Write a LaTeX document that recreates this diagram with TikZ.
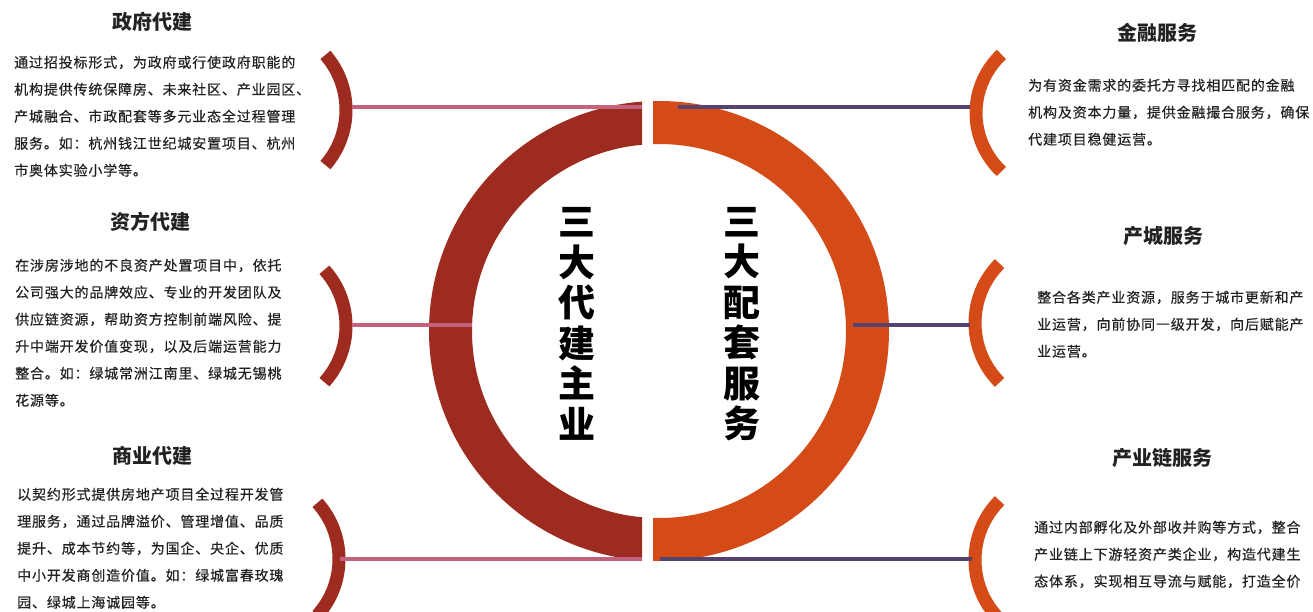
\documentclass[tikz,border=0pt]{standalone}
\usepackage{fontspec}
\newfontfamily\cjk{Noto Sans CJK SC}
\definecolor{ringL}{HTML}{9E2B1F}
\definecolor{ringR}{HTML}{D54B18}
\definecolor{pinkc}{HTML}{C2627C}
\definecolor{purpc}{HTML}{55436E}
\definecolor{txt}{HTML}{222222}
\begin{document}
\begin{tikzpicture}[x=1pt,y=-1pt,
  title/.style={font=\cjk\bfseries\fontsize{20}{24}\selectfont, text=txt, anchor=center, inner sep=0pt},
  body/.style={font=\cjk\fontsize{14}{27}\selectfont\addfontfeature{LetterSpace=6,FakeBold=0.5}, text=txt, align=left, anchor=north west, inner sep=0pt},
  bigtxt/.style={font=\cjk\bfseries\fontsize{37}{40.5}\selectfont, align=center, anchor=center, inner sep=0pt},
  brL/.style={draw=ringL, line width=13pt},
  brR/.style={draw=ringR, line width=13pt},
  pinkline/.style={draw=pinkc, line width=4pt},
  purpline/.style={draw=purpc, line width=4pt}]
\useasboundingbox (0,0) rectangle (1313,612);
% central ring
\begin{scope}
  \clip (0,0) rectangle (642,612);
  \fill[ringL, even odd rule] (659,331) circle[radius=230] (659,331) circle[radius=187];
\end{scope}
\begin{scope}
  \clip (653,0) rectangle (1313,612);
  \fill[ringR, even odd rule] (659,331) circle[radius=230] (659,331) circle[radius=187];
\end{scope}
% brackets left
\draw[brL] ([shift={(-41:84)}]262,110) arc[start angle=-41, end angle=41, radius=84];
\draw[brL] ([shift={(-42:84)}]262,326) arc[start angle=-42, end angle=42, radius=84];
\draw[brL] ([shift={(-42:84)}]255,559) arc[start angle=-42, end angle=42, radius=84];
% brackets right
\draw[brR] ([shift={(133:80)}]1056,113) arc[start angle=133, end angle=227, radius=80];
\draw[brR] ([shift={(135:84)}]1059,323) arc[start angle=135, end angle=225, radius=84];
\draw[brR] ([shift={(135:84)}]1059,560) arc[start angle=135, end angle=225, radius=84];
% connector end points
\coordinate (a1) at (352,107); \coordinate (b1) at (642,107);
\coordinate (a2) at (352,325); \coordinate (b2) at (472,325);
\coordinate (a3) at (340,559); \coordinate (b3) at (642,559);
\coordinate (c1) at (678,107); \coordinate (d1) at (970,107);
\coordinate (c2) at (853,325); \coordinate (d2) at (970,325);
\coordinate (c3) at (660,559); \coordinate (d3) at (972,559);
\draw[pinkline] (a1) -- (b1);
\draw[pinkline] (a2) -- (b2);
\draw[pinkline] (a3) -- (b3);
\draw[purpline] (c1) -- (d1);
\draw[purpline] (c2) -- (d2);
\draw[purpline] (c3) -- (d3);
% central texts
\node[bigtxt] (mainL) at (577,324) {三\\大\\代\\建\\主\\业};
\node[bigtxt] (mainR) at (742,324) {三\\大\\配\\套\\服\\务};
% left texts
\node[title] (t1) at (152,22) {政府代建};
\node[body] (p1) at (14,55.5) {通过招投标形式，为政府或行使政府职能的\\机构提供传统保障房、未来社区、产业园区、\\产城融合、市政配套等多元业态全过程管理\\服务。如：杭州钱江世纪城安置项目、杭州\\市奥体实验小学等。};
\node[title] (t2) at (150,222) {资方代建};
\node[body] (p2) at (15,258.5) {在涉房涉地的不良资产处置项目中，依托\\公司强大的品牌效应、专业的开发团队及\\供应链资源，帮助资方控制前端风险、提\\升中端开发价值变现，以及后端运营能力\\整合。如：绿城常洲江南里、绿城无锡桃\\花源等。};
\node[title] (t3) at (152,456) {商业代建};
\node[body] (p3) at (17,487.5) {以契约形式提供房地产项目全过程开发管\\理服务，通过品牌溢价、管理增值、品质\\提升、成本节约等，为国企、央企、优质\\中小开发商创造价值。如：绿城富春玫瑰\\园、绿城上海诚园等。};
% right texts
\node[title] (t4) at (1157,33) {金融服务};
\node[body] (p4) at (1028,78.5) {为有资金需求的委托方寻找相匹配的金融\\机构及资本力量，提供金融撮合服务，确保\\代建项目稳健运营。};
\node[title] (t5) at (1163,236) {产城服务};
\node[body] (p5) at (1037,290.5) {整合各类产业资源，服务于城市更新和产\\业运营，向前协同一级开发，向后赋能产\\业运营。};
\node[title] (t6) at (1162,458) {产业链服务};
\node[body] (p6) at (1034,520.5) {通过内部孵化及外部收并购等方式，整合\\产业链上下游轻资产类企业，构造代建生\\态体系，实现相互导流与赋能，打造全价};
\end{tikzpicture}
\end{document}
